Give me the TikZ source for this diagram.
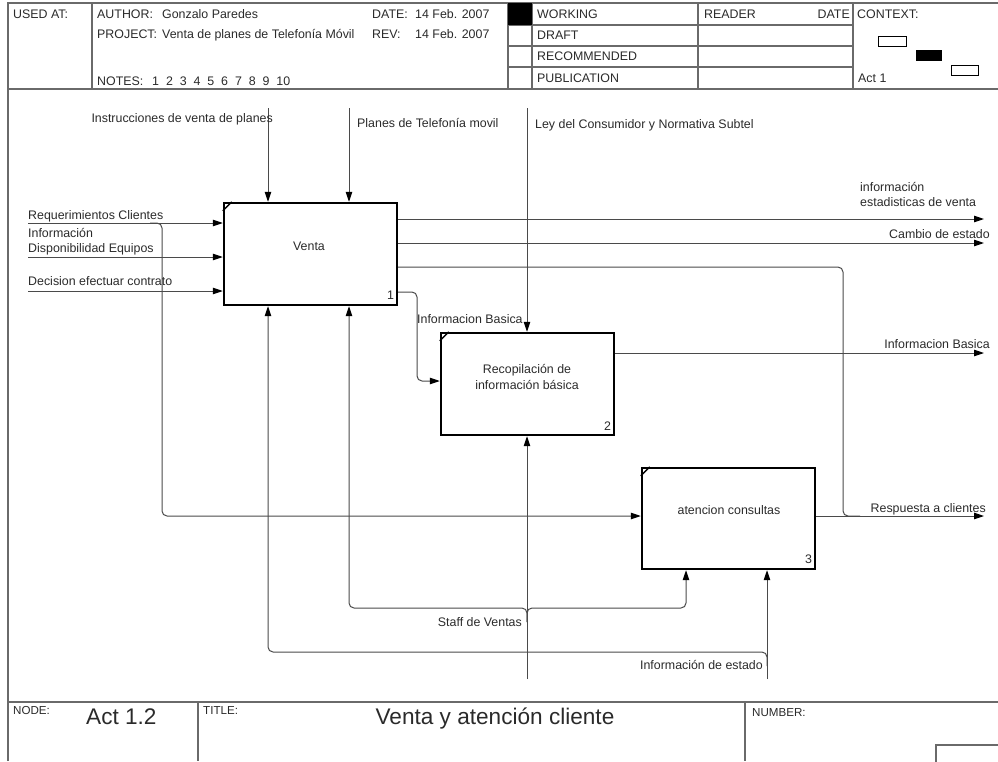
\documentclass[tikz,border=0pt]{standalone}
\usepackage{fontspec}
\setmainfont{Liberation Sans}
\usetikzlibrary{arrows.meta}
\definecolor{txt}{HTML}{2A2A2A}
\definecolor{ln}{HTML}{4A4A4A}
\definecolor{frm}{HTML}{6A6A6A}
\begin{document}
\begin{tikzpicture}[x=1pt,y=-1pt,
  lbl/.style={inner sep=0pt,font=\fontsize{12.4}{14}\selectfont,text=txt},
  small/.style={inner sep=0pt,font=\fontsize{11.6}{13}\selectfont,text=txt},
  big/.style={inner sep=0pt,font=\fontsize{22.6}{26}\selectfont,text=txt},
  frame/.style={draw=frm,line width=1.3pt},
  actbox/.style={draw=black,line width=2.4pt,minimum width=173pt,minimum height=102pt,inner sep=0pt},
  flow/.style={draw=ln,line width=1pt,-{Triangle[length=10pt,width=6.5pt,color=black]}},
  plain/.style={draw=ln,line width=1pt},
  rc/.style={rounded corners=5pt}]
\useasboundingbox (0,0) rectangle (998,761);
% ---------- frame ----------
\draw[frame] (8,761) -- (8,3) -- (998,3);
\draw[frame] (8,89) -- (998,89);
\draw[frame] (92,3) -- (92,89);
\draw[frame] (508,3) -- (508,89);
\draw[frame] (532,3) -- (532,89);
\draw[frame] (698,3) -- (698,89);
\draw[frame] (853,3) -- (853,89);
\draw[frame] (508,25) -- (853,25);
\draw[frame] (508,46) -- (853,46);
\draw[frame] (508,67) -- (853,67);
\fill[black] (508,3) rectangle (532,25);
\draw[frame] (8,702) -- (998,702);
\draw[frame] (198,702) -- (198,761);
\draw[frame] (745,702) -- (745,761);
\draw[frame] (936,765) -- (936,745) -- (1002,745);
% context mini boxes
\draw[draw=black,line width=0.8pt] (878,36) rectangle (906,46);
\fill[black] (916,50) rectangle (942,61);
\draw[draw=black,line width=0.8pt] (951,65) rectangle (978,75);
% ---------- header text ----------
\node[lbl,anchor=base west] (usedat) at (13,18) {USED AT:};
\node[lbl,anchor=base west] (author) at (97,18) {AUTHOR:};
\node[lbl,anchor=base west] (authorv) at (162,18) {Gonzalo Paredes};
\node[lbl,anchor=base west] (date) at (372,18) {DATE:};
\node[lbl,anchor=base west] (datev) at (415,18) {14 Feb. 2007};
\node[lbl,anchor=base west] (project) at (97,38) {PROJECT:};
\node[lbl,anchor=base west] (projectv) at (162,38) {Venta de planes de Telefonía Móvil};
\node[lbl,anchor=base west] (rev) at (372,38) {REV:};
\node[lbl,anchor=base west] (revv) at (415,38) {14 Feb. 2007};
\node[lbl,anchor=base west] (notes) at (97,85) {NOTES:};
\foreach \n [count=\i from 0] in {1,2,3,4,5,6,7,8,9,10}
  \node[lbl,anchor=base west] (note\n) at (152+13.8*\i,85) {\n};
\node[lbl,anchor=base west] (working) at (537,18) {WORKING};
\node[lbl,anchor=base west] (draft) at (537,39) {DRAFT};
\node[lbl,anchor=base west] (recom) at (537,60) {RECOMMENDED};
\node[lbl,anchor=base west] (public) at (537,82) {PUBLICATION};
\node[lbl,anchor=base west] (reader) at (704,18) {READER};
\node[lbl,anchor=base east] (rdate) at (850,18) {DATE};
\node[lbl,anchor=base west] (context) at (857,18) {CONTEXT:};
\node[lbl,anchor=base west] (act1) at (858,82) {Act 1};
% ---------- footer text ----------
\node[small,anchor=base west] (nodelbl) at (13,714) {NODE:};
\node[big,anchor=base west] (nodev) at (86,724) {Act 1.2};
\node[small,anchor=base west] (titlelbl) at (203,714) {TITLE:};
\node[big,anchor=base] (titlev) at (495,724) {Venta y atención cliente};
\node[small,anchor=base west] (numberlbl) at (752,716) {NUMBER:};
% ---------- activity boxes ----------
\node[actbox] (box1) at (310.5,254) {};
\node[actbox] (box2) at (527.5,384) {};
\node[actbox,minimum height=101pt] (box3) at (728.5,518.5) {};
\foreach \b in {box1,box2,box3}
  \draw[black,line width=1.3pt] ([yshift=-9pt]\b.north west) -- ([xshift=9pt]\b.north west);
\node[lbl,anchor=base] (t1) at (309,250) {Venta};
\node[lbl,anchor=base] (t2a) at (527,373) {Recopilación de};
\node[lbl,anchor=base] (t2b) at (527,389) {información básica};
\node[lbl,anchor=base] (t3) at (729,514) {atencion consultas};
\node[lbl,anchor=base east] (n1) at ([xshift=-4pt,yshift=7pt]box1.south east) {1};
\node[lbl,anchor=base east] (n2) at ([xshift=-4pt,yshift=6pt]box2.south east) {2};
\node[lbl,anchor=base east] (n3) at ([xshift=-4pt,yshift=7pt]box3.south east) {3};
% ---------- free ends ----------
\coordinate (c1) at (268,108);
\coordinate (c2) at (349,108);
\coordinate (c3) at (527,108);
\coordinate (in1) at (28,223);
\coordinate (in2) at (28,257);
\coordinate (in3) at (28,291);
\coordinate (o1) at (984,219);
\coordinate (o2) at (984,243);
\coordinate (o3) at (984,353);
\coordinate (o4) at (984,516);
\coordinate (m1) at (527,679);
\coordinate (m2) at (767,679);
% ---------- controls ----------
\draw[flow] (c1) -- (c1 |- box1.north);
\draw[flow] (c2) -- (c2 |- box1.north);
\draw[flow] (c3) -- (c3 |- box2.north);
\node[lbl,anchor=base east] (lc1) at (273,122) {Instrucciones de venta de planes};
\node[lbl,anchor=base west] (lc2) at (357,127) {Planes de Telefonía movil};
\node[lbl,anchor=base west] (lc3) at (535,128) {Ley del Consumidor y Normativa Subtel};
% ---------- inputs ----------
\draw[flow] (in1) -- (in1 -| box1.west);
\draw[flow] (in2) -- (in2 -| box1.west);
\draw[flow] (in3) -- (in3 -| box1.west);
\draw[flow,rc] (150,223) -- (162,223) -- (162,516) -- (box3.west |- 0,516);
\node[lbl,anchor=base west] (li1) at (28,219) {Requerimientos Clientes};
\node[lbl,anchor=base west] (li2a) at (28,237) {Información};
\node[lbl,anchor=base west] (li2b) at (28,252) {Disponibilidad Equipos};
\node[lbl,anchor=base west] (li3) at (28,285) {Decision efectuar contrato};
% ---------- outputs ----------
\draw[flow] (o1 -| box1.east) -- (o1);
\draw[flow] (o2 -| box1.east) -- (o2);
\draw[plain,rc] (box1.east |- 0,267) -- (843,267) -- (843,516) -- (860,516);
\draw[flow] (o4 -| box3.east) -- (o4);
\draw[flow,rc] (box1.east |- 0,292) -- (417,292) -- (417,381) -- (box2.west |- 0,381);
\draw[flow] (o3 -| box2.east) -- (o3);
\node[lbl,anchor=base west] (lo1a) at (860,191) {información};
\node[lbl,anchor=base west] (lo1b) at (860,206) {estadisticas de venta};
\node[lbl,anchor=base east] (lo2) at (990,238) {Cambio de estado};
\node[lbl,anchor=base west] (lbb) at (417,323) {Informacion Basica};
\node[lbl,anchor=base east] (lo3) at (990,348) {Informacion Basica};
\node[lbl,anchor=base east] (lo4) at (986,512) {Respuesta a clientes};
% ---------- mechanisms ----------
\draw[flow] (m1) -- (m1 |- box2.south);
\draw[flow,rc] (527,622) -- (527,608) -- (349,608) -- (box1.south -| 349,0);
\draw[flow,rc] (527,622) -- (527,608) -- (686,608) -- (box3.south -| 686,0);
\draw[flow] (m2) -- (m2 |- box3.south);
\draw[flow,rc] (767,666) -- (767,652) -- (268,652) -- (box1.south -| 268,0);
\node[lbl,anchor=base east] (lm1) at (522,626) {Staff de Ventas};
\node[lbl,anchor=base east] (lm2) at (763,669) {Información de estado};
\end{tikzpicture}
\end{document}
